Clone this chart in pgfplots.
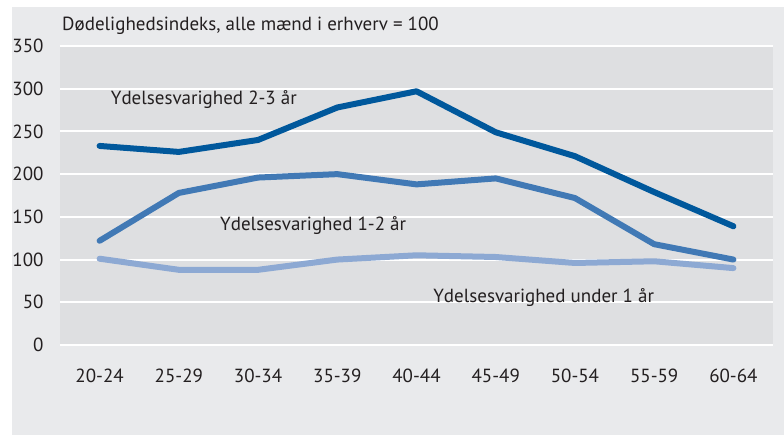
\documentclass[border=0pt]{standalone}
\usepackage{pgfplots}
\pgfplotsset{compat=1.18}
\usepackage{fontspec}
\setmainfont{PT Sans}
\definecolor{outerbg}{HTML}{E9EAEC}
\definecolor{plotbg}{HTML}{DEDFE1}
\definecolor{cdark}{HTML}{00589C}
\definecolor{cmid}{HTML}{4179B5}
\definecolor{clight}{HTML}{8DA9D3}
\definecolor{txt}{HTML}{231F20}
\begin{document}
\begin{tikzpicture}[x=1bp,y=1bp]
\path[use as bounding box] (0,0) rectangle (784,435);
\fill[white] (0,0) rectangle (784,435);
\fill[outerbg] (12,0) rectangle (784,428);
\node[anchor=base west, font=\fontsize{19bp}{22bp}\selectfont, text=txt, inner sep=0] at (62,404) {Dødelighedsindeks, alle mænd i erhverv = 100};
\begin{axis}[
  scale only axis,
  anchor=south west,
  at={(60bp,90bp)},
  width=713bp, height=299bp,
  xmin=-0.5, xmax=8.5,
  ymin=0, ymax=350,
  xtick={0,...,8},
  xticklabels={20-24,25-29,30-34,35-39,40-44,45-49,50-54,55-59,60-64},
  ytick={0,50,...,350},
  axis background/.style={fill=plotbg},
  axis line style={draw=none},
  major tick length=0pt,
  ymajorgrids,
  grid style={white, line width=2bp},
  tick label style={font=\fontsize{19bp}{22bp}\selectfont, text=txt},
  /pgf/number format/assume math mode=true,
  yticklabel style={anchor=east, xshift=-13bp},
  xticklabel style={anchor=center, yshift=-31bp},
  clip=false,
  every axis plot/.append style={line width=6bp, line join=round, line cap=round, mark=none},
]
\addplot[clight] coordinates {(0,101) (1,88) (2,88) (3,100) (4,105) (5,103) (6,96) (7,98) (8,90)};
\addplot[cmid] coordinates {(0,122) (1,178) (2,196) (3,200) (4,188) (5,195) (6,172) (7,118) (8,100)};
\addplot[cdark] coordinates {(0,233) (1,226) (2,240) (3,278) (4,297) (5,249) (6,221) (7,179) (8,139)};
\node[anchor=west, font=\fontsize{19bp}{22bp}\selectfont, text=txt, inner sep=0] at (axis cs:0.14,287) {Ydelsesvarighed 2-3 år};
\node[anchor=west, font=\fontsize{19bp}{22bp}\selectfont, text=txt, inner sep=0] at (axis cs:1.52,140) {Ydelsesvarighed 1-2 år};
\node[anchor=west, font=\fontsize{19bp}{22bp}\selectfont, text=txt, inner sep=0] at (axis cs:4.21,55) {Ydelsesvarighed under 1 år};
\end{axis}
\end{tikzpicture}
\end{document}
